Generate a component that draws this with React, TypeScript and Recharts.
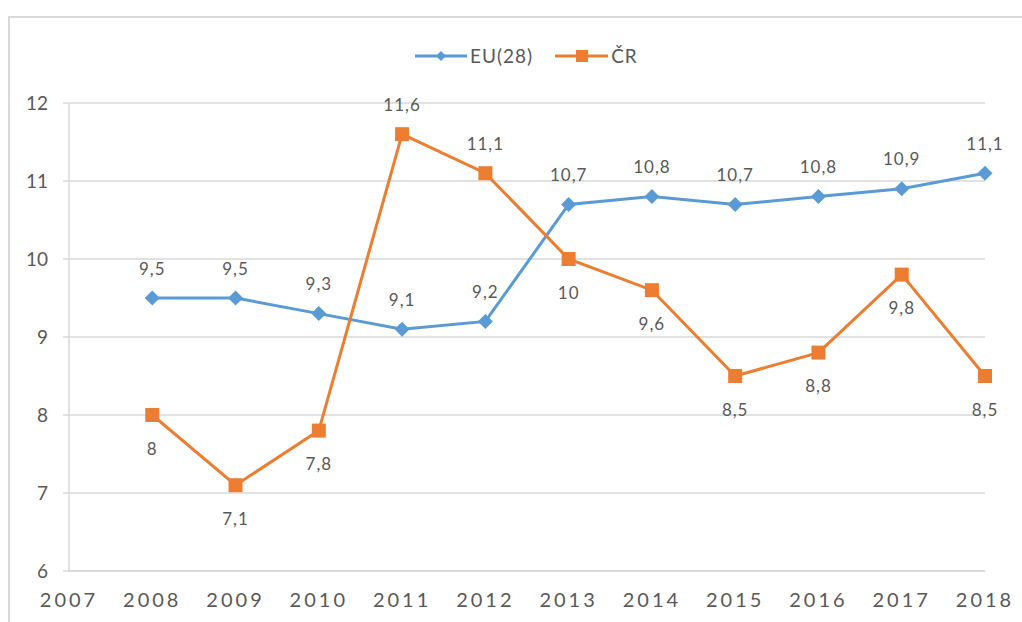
import React from 'react';
import { LineChart, Line, XAxis, YAxis, CartesianGrid, Legend, LabelList } from 'recharts';

const years = ['2007', '2008', '2009', '2010', '2011', '2012', '2013', '2014', '2015', '2016', '2017', '2018'];
const euValues: (number | null)[] = [null, 9.5, 9.5, 9.3, 9.1, 9.2, 10.7, 10.8, 10.7, 10.8, 10.9, 11.1];
const crValues: (number | null)[] = [null, 8, 7.1, 7.8, 11.6, 11.1, 10, 9.6, 8.5, 8.8, 9.8, 8.5];
const yTicks = [6, 7, 8, 9, 10, 11, 12];
const crLabelsAbove = new Set(['2011', '2012']);

const EU_COLOR = '#5B9BD5';
const CR_COLOR = '#ED7D31';
const TEXT = '#595959';
const GRID = '#D9D9D9';
const FONT = 'Lato, "Open Sans", sans-serif';

const data = years.map((y, i) => ({ year: y, eu: euValues[i], cr: crValues[i] }));

const fmt = (v: number) => String(v).replace('.', ',');

const Diamond = (props: any) => {
  const { cx, cy } = props;
  if (cx == null || cy == null || props.value == null) return null;
  const r = 7.5;
  return <path d={`M${cx},${cy - r}L${cx + r},${cy}L${cx},${cy + r}L${cx - r},${cy}Z`} fill={EU_COLOR} />;
};

const Square = (props: any) => {
  const { cx, cy } = props;
  if (cx == null || cy == null || props.value == null) return null;
  const s = 14;
  return <rect x={cx - s / 2} y={cy - s / 2} width={s} height={s} fill={CR_COLOR} />;
};

const makeLabel = (series: 'eu' | 'cr') => (props: any) => {
  const { x, y, value, index } = props;
  if (value == null || x == null || y == null) return null;
  const year = years[index];
  const above = series === 'eu' ? true : crLabelsAbove.has(year);
  const dy = above ? -30 : 33;
  return (
    <text x={x} y={y + dy} textAnchor="middle" dominantBaseline="central" fill={TEXT}
      style={{ fontFamily: FONT, fontSize: 17, letterSpacing: 1 }}>
      {fmt(value)}
    </text>
  );
};

const LegendContent = () => (
  <div style={{ display: 'flex', alignItems: 'center', fontFamily: FONT, fontSize: 19, letterSpacing: 1, color: TEXT, position: 'absolute', left: 415, top: 0 }}>
    <svg width={52} height={16}>
      <line x1={0} y1={8} x2={52} y2={8} stroke={EU_COLOR} strokeWidth={3} />
      <path d="M26,3L31,8L26,13L21,8Z" fill={EU_COLOR} />
    </svg>
    <span style={{ marginLeft: 3, marginRight: 22 }}>EU(28)</span>
    <svg width={53} height={16}>
      <line x1={0} y1={8} x2={53} y2={8} stroke={CR_COLOR} strokeWidth={3} />
      <rect x={21} y={2} width={12} height={12} fill={CR_COLOR} />
    </svg>
    <span style={{ marginLeft: 3 }}>ČR</span>
  </div>
);

export default function App() {
  return (
    <div style={{ position: 'absolute', left: 0, top: 0, width: 1022, height: 622, overflow: 'hidden', background: '#fff' }}>
      <div style={{ position: 'absolute', left: 8, top: 16, width: 1100, height: 700, border: `2px solid ${GRID}` }} />
      <div style={{ position: 'absolute', left: 0, top: 0 }}>
        <LineChart width={1022} height={622} data={data} margin={{ top: 103, right: 37, bottom: 21, left: 0 }}>
          <CartesianGrid horizontal vertical={false} stroke={GRID} strokeWidth={1.5} />
          <XAxis dataKey="year" type="category" padding={{ left: 0, right: 0 }} interval={0}
            axisLine={{ stroke: GRID, strokeWidth: 1.5 }} tickLine={false} tickMargin={16}
            tick={{ fill: TEXT, fontSize: 20, fontFamily: FONT, letterSpacing: 3 }} />
          <YAxis width={69} domain={[6, 12]} ticks={yTicks} interval={0} allowDataOverflow
            axisLine={{ stroke: GRID, strokeWidth: 1.5 }} tickLine={{ stroke: GRID, strokeWidth: 1.5 }} tickSize={6} tickMargin={15}
            tick={{ fill: TEXT, fontSize: 19, fontFamily: FONT }} />
          <Legend layout="horizontal" verticalAlign="middle" align="center"
            wrapperStyle={{ top: 44, left: 0, width: 1022, height: 20 }} content={<LegendContent />} />
          <Line dataKey="eu" name="EU(28)" stroke={EU_COLOR} strokeWidth={3} dot={<Diamond />} activeDot={false}
            isAnimationActive={false} connectNulls={false}>
            <LabelList dataKey="eu" content={makeLabel('eu')} />
          </Line>
          <Line dataKey="cr" name="ČR" stroke={CR_COLOR} strokeWidth={3} dot={<Square />} activeDot={false}
            isAnimationActive={false} connectNulls={false}>
            <LabelList dataKey="cr" content={makeLabel('cr')} />
          </Line>
        </LineChart>
      </div>
    </div>
  );
}
